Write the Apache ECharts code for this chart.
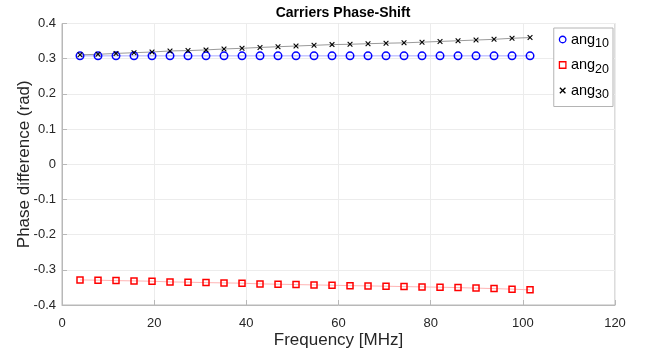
<!DOCTYPE html>
<html>
<head>
<meta charset="utf-8">
<script src="https://cdn.jsdelivr.net/npm/echarts@6/dist/echarts.min.js"></script>
<style>
  html, body { margin: 0; padding: 0; background: #fff; }
  #chart { width: 649px; height: 352px; }
</style>
</head>
<body>
<div id="chart"></div>
<script>
// Carrier sample frequencies (MHz)
const freqs = [3.906, 7.813, 11.719, 15.625, 19.531, 23.438, 27.344, 31.25, 35.156, 39.063,
  42.969, 46.875, 50.781, 54.688, 58.594, 62.5, 66.406, 70.313, 74.219, 78.125,
  82.031, 85.938, 89.844, 93.75, 97.656, 101.563];

// Phase differences (rad)
const ang10 = [0.308, 0.308, 0.308, 0.308, 0.308, 0.308, 0.308, 0.308, 0.308, 0.308,
  0.308, 0.308, 0.308, 0.308, 0.308, 0.308, 0.308, 0.308, 0.308, 0.308,
  0.308, 0.308, 0.308, 0.308, 0.308, 0.308];
const ang20 = [-0.3287, -0.3295, -0.3307, -0.3315, -0.3324, -0.3344, -0.3352, -0.3364, -0.3372, -0.338,
  -0.340, -0.3409, -0.342, -0.3429, -0.3438, -0.345, -0.3457, -0.3466, -0.3477, -0.3486,
  -0.3494, -0.3506, -0.352, -0.3534, -0.355, -0.357];
const ang30 = [0.311, 0.3125, 0.315, 0.317, 0.319, 0.322, 0.323, 0.325, 0.3276, 0.3295,
  0.332, 0.334, 0.336, 0.338, 0.340, 0.341, 0.3426, 0.344, 0.345, 0.347,
  0.349, 0.351, 0.353, 0.355, 0.358, 0.360];

const xTicks = [0, 20, 40, 60, 80, 100, 120];
const yTicks = [-0.4, -0.3, -0.2, -0.1, 0, 0.1, 0.2, 0.3, 0.4];

const crossPath = 'path://M0,1.4L1.4,0L5,3.6L8.6,0L10,1.4L6.4,5L10,8.6L8.6,10L5,6.4L1.4,10L0,8.6L3.6,5Z';

const seriesDefs = [
  { name: 'ang10', sub: '10', data: ang10, color: '#0000ff', line: '#a8a8ff', symbol: 'circle', size: 7.5 },
  { name: 'ang20', sub: '20', data: ang20, color: '#ff0000', line: '#ffb4b4', symbol: 'rect', size: 6 },
  { name: 'ang30', sub: '30', data: ang30, color: '#000000', line: '#9a9a9a', symbol: crossPath, size: 5.5 }
];

const font = 'Liberation Sans, Arial, Helvetica, sans-serif';
const axisColor = '#b8b8b8';
const textColor = '#262626';

const chart = echarts.init(document.getElementById('chart'), null, { renderer: 'canvas' });

chart.setOption({
  animation: false,
  backgroundColor: '#ffffff',
  textStyle: { fontFamily: font },
  title: {
    text: 'Carriers Phase-Shift',
    left: 338, top: 1, textAlign: 'center',
    textStyle: { fontSize: 14, fontWeight: 'bold', color: '#000', fontFamily: font }
  },
  grid: {
    left: 62, right: 34, top: 23.5, bottom: 47,
    outerBoundsMode: 'none',
    containLabel: false,
    show: true, borderColor: axisColor, borderWidth: 1, backgroundColor: '#fff'
  },
  legend: {
    orient: 'vertical',
    right: 36, top: 28,
    padding: [4, 4, 5, 5],
    itemGap: 7,
    itemWidth: 6.5, itemHeight: 6.5,
    backgroundColor: '#fff',
    borderColor: '#b4b4b4', borderWidth: 1,
    data: seriesDefs.map(s => ({
      name: s.name,
      icon: s.symbol,
      itemStyle: s.symbol.startsWith('path')
        ? { color: s.color, borderWidth: 0 }
        : { color: 'rgba(0,0,0,0)', borderColor: s.color, borderWidth: 1.3 }
    })),
    formatter: name => {
      const s = seriesDefs.find(d => d.name === name);
      return '{a|ang}{s|' + s.sub + '}';
    },
    textStyle: {
      rich: {
        a: { fontSize: 14.5, color: '#000', fontFamily: font, lineHeight: 22 },
        s: { fontSize: 12.5, color: '#000', fontFamily: font, padding: [9, 0, 0, 0] }
      }
    }
  },
  xAxis: {
    type: 'value',
    min: 0, max: 120, interval: 20,
    name: 'Frequency [MHz]',
    nameLocation: 'middle', nameGap: 27,
    nameMoveOverlap: false,
    nameTextStyle: { fontSize: 17, color: textColor, fontFamily: font },
    axisLine: { show: true, onZero: false, lineStyle: { color: axisColor } },
    axisTick: { show: true, inside: true, length: 5, lineStyle: { color: axisColor } },
    axisLabel: {
      fontSize: 13, color: textColor, margin: 12, fontFamily: font,
      formatter: v => xTicks.includes(v) ? String(v) : ''
    },
    splitLine: { show: true, lineStyle: { color: '#ececec', width: 1 } }
  },
  yAxis: {
    type: 'value',
    min: -0.4, max: 0.4, interval: 0.1,
    name: 'Phase difference (rad)',
    nameLocation: 'middle', nameGap: 29,
    nameMoveOverlap: false,
    nameTextStyle: { fontSize: 17, color: textColor, fontFamily: font },
    axisLine: { show: true, onZero: false, lineStyle: { color: axisColor } },
    axisTick: { show: true, inside: true, length: 5, lineStyle: { color: axisColor } },
    axisLabel: {
      fontSize: 13, color: textColor, margin: 6, fontFamily: font,
      formatter: v => {
        const r = Math.round(v * 10) / 10;
        return r === 0 ? '0' : r.toFixed(1);
      }
    },
    splitLine: { show: true, lineStyle: { color: '#ececec', width: 1 } }
  },
  series: seriesDefs.map(s => ({
    name: s.name,
    type: 'line',
    data: freqs.map((f, i) => [f, s.data[i]]),
    symbol: s.symbol,
    symbolSize: s.size,
    showSymbol: true,
    lineStyle: { color: s.line, width: 1 },
    itemStyle: s.symbol.startsWith('path')
      ? { color: s.color, borderWidth: 0 }
      : { color: 'rgba(0,0,0,0)', borderColor: s.color, borderWidth: 1.5 },
    emphasis: { disabled: true },
    z: 3
  }))
});
</script>
</body>
</html>
